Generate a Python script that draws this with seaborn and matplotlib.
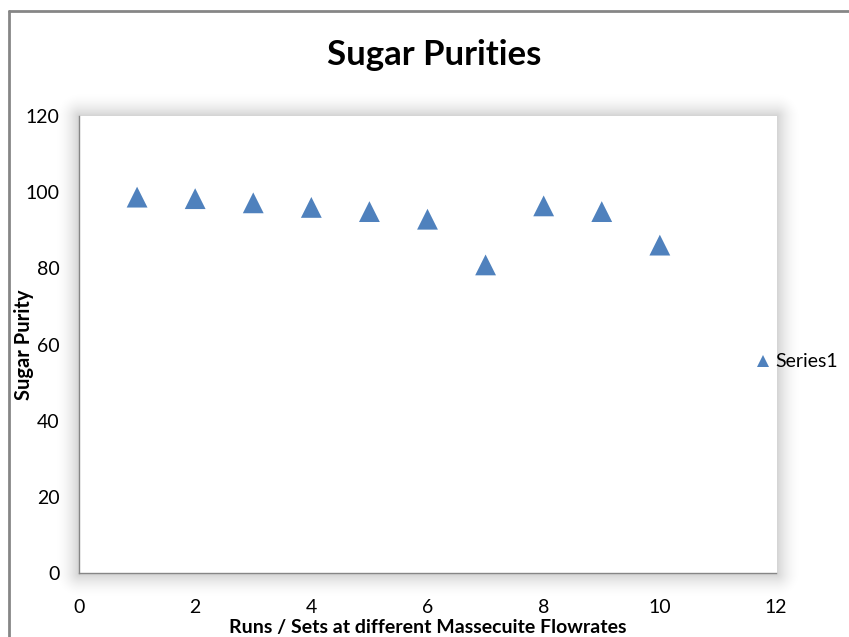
import matplotlib
matplotlib.use("Agg")
import matplotlib.pyplot as plt
from matplotlib.lines import Line2D
import numpy as np
import pandas as pd
import seaborn as sns

# Data
runs = [1, 2, 3, 4, 5, 6, 7, 8, 9, 10]
purity = [98.7, 98.3, 97.2, 96.0, 94.9, 92.9, 80.9, 96.4, 94.9, 86.1]
series_name = "Series1"

df = pd.DataFrame({"run": runs, "purity": purity, "series": series_name})

sns.set_style("white")
plt.rcParams["font.family"] = ["Lato", "DejaVu Sans"]
plt.rcParams["text.color"] = "black"
plt.rcParams["axes.labelcolor"] = "black"
plt.rcParams["xtick.color"] = "black"
plt.rcParams["ytick.color"] = "black"

W, H = 849, 637
fig = plt.figure(figsize=(W / 100, H / 100), dpi=100)
fig.patch.set_facecolor("white")

# plot area in pixels
x0, x1, y0, y1 = 79, 776, 116, 573

# soft shadow behind plot area (Excel look)
bg = fig.add_axes([0, 0, 1, 1], zorder=0)
yy, xx = np.mgrid[0:H, 0:W]
dx = np.maximum(np.maximum(x0 - xx, 0), xx - x1)
dy = np.maximum(np.maximum(y0 - yy, 0), yy - y1)
d = np.sqrt(dx ** 2 + dy ** 2)
alpha = 0.18 * np.clip(1 - d / 26, 0, 1) ** 2
alpha[(dx == 0) & (dy == 0)] = 0
rgba = np.zeros((H, W, 4))
rgba[..., 3] = alpha
bg.imshow(rgba, extent=[0, W, H, 0], aspect="auto")
bg.set_xlim(0, W)
bg.set_ylim(H, 0)
bg.axis("off")

ax = fig.add_axes([x0 / W, 1 - y1 / H, (x1 - x0) / W, (y1 - y0) / H], zorder=1)
ax.set_facecolor("white")

sns.scatterplot(data=df, x="run", y="purity", hue="series", palette=["#4F81BD"],
                marker="^", s=225, edgecolor="none", ax=ax)

ax.set_xlim(0, 12)
ax.set_ylim(0, 120)
ax.set_xticks(range(0, 13, 2))
ax.set_yticks(range(0, 121, 20))
ax.tick_params(axis="both", length=0, labelsize=14, labelcolor="black")
ax.tick_params(axis="x", pad=19)
ax.tick_params(axis="y", pad=14)

for s in ["top", "right"]:
    ax.spines[s].set_visible(False)
for s in ["left", "bottom"]:
    ax.spines[s].set_color("#868686")
    ax.spines[s].set_linewidth(1.0)

ax.set_xlabel("Runs / Sets at different Massecuite Flowrates", fontsize=14, fontweight="bold")
ax.xaxis.set_label_coords(0.5, -0.1)
ax.set_ylabel("Sugar Purity", fontsize=14.5, fontweight="bold")
ax.yaxis.set_label_coords(-0.064, 0.5)

leg = ax.legend(loc="center left", bbox_to_anchor=(0.943, 0.462), frameon=False,
                fontsize=14, markerscale=0.6, handletextpad=-0.4, borderaxespad=0)

fig.text(434 / W, 1 - 55 / H, "Sugar Purities", ha="center", va="center",
         fontsize=25, fontweight="bold", color="black")

# chart border
fig.add_artist(Line2D([8.5 / W, 8.5 / W], [0, 1 - 11 / H], transform=fig.transFigure,
                      color="#868686", lw=2))
fig.add_artist(Line2D([8.5 / W, 1], [1 - 11 / H, 1 - 11 / H], transform=fig.transFigure,
                      color="#868686", lw=2))

fig.savefig("out.png", dpi=100)
